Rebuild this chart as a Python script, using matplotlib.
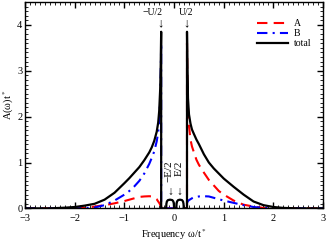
import numpy as np
import matplotlib
matplotlib.use("Agg")
import matplotlib.pyplot as plt
from matplotlib.ticker import MultipleLocator

plt.rcParams['font.family'] = ['Liberation Serif', 'DejaVu Serif']
plt.rcParams['mathtext.fontset'] = 'stix'

# negative-frequency branch
omega_left = [-3.0, -2.5, -2.2, -2.0, -1.8, -1.6, -1.4, -1.2, -1.0, -0.9, -0.8,
              -0.7, -0.6, -0.5, -0.45, -0.4, -0.35, -0.32, -0.3, -0.28, -0.27, -0.26]
A_left = [0, 0, 0, 0, 0.01, 0.04, 0.07, 0.11, 0.16, 0.19, 0.22,
          0.25, 0.26, 0.265, 0.26, 0.24, 0.2, 0.15, 0.12, 0.08, 0.06, 0.05]
B_left = [0, 0, 0, 0, 0.005, 0.02, 0.07, 0.17, 0.3, 0.38, 0.48,
          0.6, 0.76, 0.97, 1.1, 1.24, 1.46, 1.66, 1.92, 2.4, 2.9, 3.6]
total_left = [0, 0, 0.015, 0.03, 0.06, 0.1, 0.19, 0.34, 0.55, 0.66, 0.78,
              0.9, 1.05, 1.22, 1.33, 1.47, 1.67, 1.87, 2.12, 2.6, 3.1, 3.85]

# positive-frequency branch
omega_right = [0.26, 0.27, 0.28, 0.3, 0.33, 0.36, 0.4, 0.45, 0.5, 0.6, 0.7,
               0.8, 0.9, 1.0, 1.2, 1.4, 1.6, 1.8, 2.0, 2.2, 2.5, 3.0]
A_right = [3.6, 2.7, 2.2, 1.8, 1.5, 1.35, 1.22, 1.06, 0.95, 0.78, 0.62,
           0.5, 0.38, 0.3, 0.17, 0.08, 0.04, 0.01, 0, 0, 0, 0]
B_right = [0.12, 0.14, 0.16, 0.18, 0.2, 0.22, 0.24, 0.25, 0.26, 0.265, 0.26,
           0.23, 0.2, 0.17, 0.12, 0.07, 0.03, 0.01, 0, 0, 0, 0]
total_right = [3.85, 3.0, 2.4, 2.05, 1.85, 1.72, 1.62, 1.5, 1.4, 1.18, 1.0,
               0.87, 0.76, 0.65, 0.47, 0.3, 0.15, 0.07, 0.03, 0.01, 0, 0]

# in-gap states
omega_gap = [-0.26, -0.16, -0.155, -0.145, -0.125, -0.08, -0.035, -0.015, -0.005, 0.0,
             0.045, 0.05, 0.06, 0.08, 0.12, 0.16, 0.18, 0.19, 0.195, 0.26]
total_gap = [0, 0, 0.1, 0.15, 0.18, 0.19, 0.18, 0.15, 0.1, 0,
             0, 0.1, 0.15, 0.18, 0.19, 0.18, 0.15, 0.1, 0, 0]

w_all = np.concatenate([omega_left, omega_gap, omega_right])
A_all = np.concatenate([A_left, np.zeros(len(omega_gap)), A_right])
B_all = np.concatenate([B_left, np.zeros(len(omega_gap)), B_right])
tot_all = np.concatenate([total_left, total_gap, total_right])

fig = plt.figure(figsize=(3.26, 2.44), dpi=100)
ax = fig.add_axes([0.077, 0.146, 0.914, 0.846])

ax.plot(w_all, A_all, color='#ff0000', lw=1.5, ls=(0, (5, 3)), label='A')
ax.plot(w_all, B_all, color='#0000ff', lw=1.5, ls=(0, (5, 2.5, 1, 2.5)), label='B')
ax.plot(w_all, tot_all, color='black', lw=1.6, label='total')

ax.set_xlim(-3, 3)
ax.set_ylim(0, 4.5)
ax.xaxis.set_major_locator(MultipleLocator(1))
ax.xaxis.set_minor_locator(MultipleLocator(0.1))
ax.yaxis.set_major_locator(MultipleLocator(1))
ax.yaxis.set_minor_locator(MultipleLocator(0.1))
ax.tick_params(which='both', direction='in', top=True, right=True, labelsize=7.5)
ax.tick_params(axis='x', pad=4)
ax.tick_params(axis='y', pad=2)
ax.tick_params(which='major', length=4, width=1)
ax.tick_params(which='minor', length=2, width=0.6)
for s in ax.spines.values():
    s.set_linewidth(1)

ax.set_xlabel(r'Frequency ω/t$^*$', fontsize=7.5, labelpad=3)
ax.set_ylabel(r'A(ω)t$^*$', fontsize=7.5, labelpad=1)

ax.text(-0.43, 4.28, '−U/2', fontsize=7, ha='center', va='center')
ax.text(0.24, 4.28, 'U/2', fontsize=7, ha='center', va='center')
ax.text(-0.27, 4.03, '↓', fontsize=9, ha='center', va='center')
ax.text(0.245, 4.03, '↓', fontsize=9, ha='center', va='center')
ax.text(-0.095, 1.05, '−E/2', fontsize=8, rotation=90, ha='center', va='top')
ax.text(0.095, 1.05, 'E/2', fontsize=8, rotation=90, ha='center', va='top')
ax.text(-0.085, 0.37, '↓', fontsize=8.5, ha='center', va='center')
ax.text(0.097, 0.37, '↓', fontsize=8.5, ha='center', va='center')

ax.legend(loc='upper right', bbox_to_anchor=(0.99, 0.96), frameon=False, fontsize=7,
          handlelength=3.2, labelspacing=0.1, handletextpad=0.6)

fig.savefig('out.png', dpi=100)
